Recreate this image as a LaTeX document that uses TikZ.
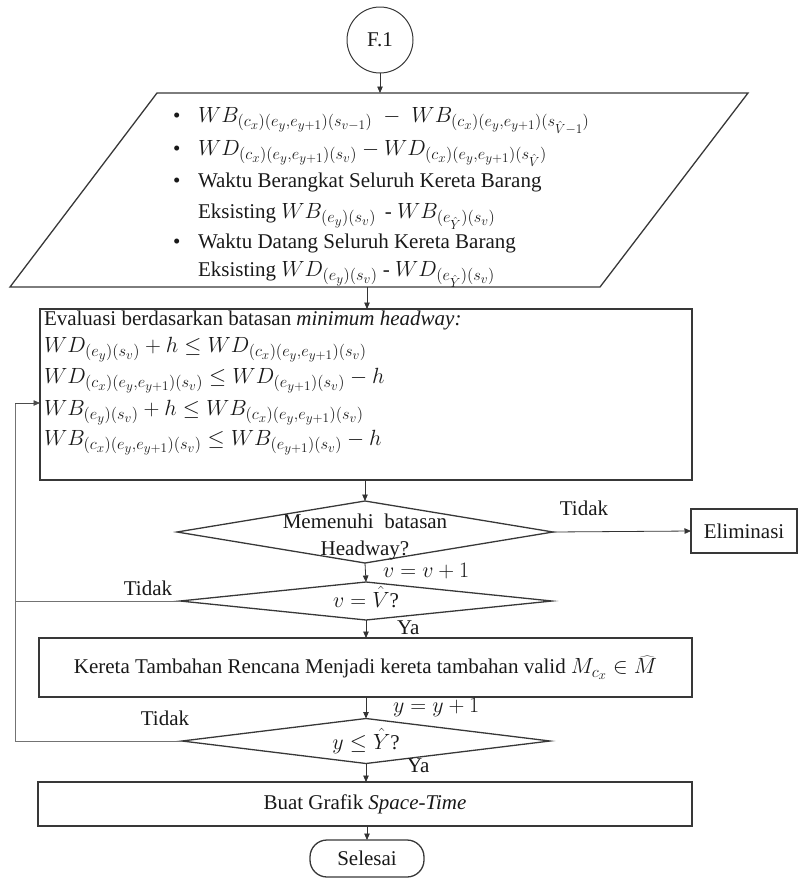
\RequirePackage{fix-cm}
\documentclass[tikz,border=0pt]{standalone}
\usepackage{fontspec}
\setmainfont{Liberation Serif}
\DeclareMathSizes{21}{22}{16.4}{13.2}
\usetikzlibrary{shapes.geometric,arrows.meta}

\begin{document}
\begin{tikzpicture}[x=1pt, y=-1pt,
  font=\fontsize{21pt}{27pt}\selectfont,
  every node/.style={inner sep=0pt, outer sep=0pt, text=black!90},
  shapeline/.style={draw=black!78, line width=1.3pt},
  procbox/.style={shapeline, rectangle},
  decision/.style={shapeline, diamond, minimum width=#1},
  conn/.style={draw=black!80, line width=0.8pt, -{Triangle[length=6.5pt,width=5.5pt]}},
  loopline/.style={draw=black!55, line width=0.8pt},
  lbl/.style={anchor=base west},
  clbl/.style={anchor=base},
]
\useasboundingbox (0,0) rectangle (798,879);

% start connector
\node[draw=black!78, line width=1pt, circle, minimum size=66pt] (f1) at (380,40) {F.1};

% input / output parallelogram
\coordinate (ioTL) at (157,93);
\coordinate (ioTR) at (748,93);
\coordinate (ioBR) at (600,287);
\coordinate (ioBL) at (10,287);
\draw[shapeline] (ioTL) -- (ioTR) -- (ioBR) -- (ioBL) -- cycle;
\coordinate (ioIn) at (380,93);
\coordinate (ioOut) at (367,287);

\node[lbl] (u1) at (173,122) {\textbullet};
\node[lbl] (u2) at (173,155) {\textbullet};
\node[lbl] (u3) at (173,187) {\textbullet};
\node[lbl] (u5) at (173,248) {\textbullet};
\node[lbl] (p1) at (198,122) {$WB_{(c_x)(e_y,e_{y+1})(s_{v-1})}\;-\;WB_{(c_x)(e_y,e_{y+1})(s_{\hat{V}-1})}$};
\node[lbl] (p2) at (198,155) {$WD_{(c_x)(e_y,e_{y+1})(s_v)}-WD_{(c_x)(e_y,e_{y+1})(s_{\hat{V}})}$};
\node[lbl] (p3) at (198,187) {Waktu Berangkat Seluruh Kereta Barang};
\node[lbl] (p4) at (198,218) {Eksisting $WB_{(e_y)(s_v)}$ \,- $WB_{(e_{\hat{Y}})(s_v)}$};
\node[lbl] (p5) at (198,248) {Waktu Datang Seluruh Kereta Barang};
\node[lbl] (p6) at (198,276) {Eksisting $WD_{(e_y)(s_v)}$ - $WD_{(e_{\hat{Y}})(s_v)}$};

% headway evaluation
\node[procbox, minimum width=652pt, minimum height=171pt] (eval) at (366,394.5) {};
\node[lbl] (e0) at (44,325) {Evaluasi berdasarkan batasan \textit{minimum headway:}};
\node[lbl] (e1) at (44,352) {$WD_{(e_y)(s_v)}+h\le WD_{(c_x)(e_y,e_{y+1})(s_v)}$};
\node[lbl] (e2) at (44,383) {$WD_{(c_x)(e_y,e_{y+1})(s_v)}\le WD_{(e_{y+1})(s_v)}-h$};
\node[lbl] (e3) at (44,415) {$WB_{(e_y)(s_v)}+h\le WB_{(c_x)(e_y,e_{y+1})(s_v)}$};
\node[lbl] (e4) at (44,445) {$WB_{(c_x)(e_y,e_{y+1})(s_v)}\le WB_{(e_{y+1})(s_v)}-h$};

% decisions
\node[decision=376pt, minimum height=62pt] (d1) at (365,532) {};
\node[clbl] (d1a) at (365,528) {Memenuhi\ \ batasan};
\node[clbl] (d1b) at (365,555) {Headway?};

\node[procbox, minimum width=106pt, minimum height=44pt] (elim) at (744,531) {Eliminasi};

\node[decision=372pt, minimum height=38pt] (d2) at (366,601) {};
\node[clbl] (d2t) at (366,607) {$v=\hat{V}$?};

\node[procbox, minimum width=653pt, minimum height=59pt] (valid) at (365.5,667.5)
  {Kereta Tambahan Rencana Menjadi kereta tambahan valid $M_{c_x}\in\widehat{M}$};

\node[decision=368pt, minimum height=45pt] (d3) at (366,741) {};
\node[clbl] (d3t) at (366,749) {$y\le\hat{Y}$?};

\node[procbox, minimum width=654pt, minimum height=44pt] (graf) at (365,804) {Buat Grafik \textit{Space-Time}};

\node[shapeline, rectangle, rounded corners=17pt, minimum width=114pt, minimum height=37pt] (end) at (367,858.5) {Selesai};

% flow labels
\node[clbl] (t1) at (584,515) {Tidak};
\node[lbl] (inc1) at (383,577) {$v=v+1$};
\node[clbl] (t2) at (148,595) {Tidak};
\node[lbl] (y1) at (397,634) {Ya};
\node[lbl] (inc2) at (393,712) {$y=y+1$};
\node[clbl] (t3) at (165,725) {Tidak};
\node[lbl] (y2) at (407,772) {Ya};

% connectors
\draw[conn] (f1) -- (ioIn);
\draw[conn] (ioOut) -- (ioOut |- eval.north);
\draw[conn] (eval.south -| d1.north) -- (d1.north);
\draw[conn] (d1.east) -- (elim.west);
\draw[conn] (d1.south) -- (d2.north);
\draw[conn] (d2.south) -- (d2.south |- valid.north);
\draw[conn] (valid.south -| d3.north) -- (d3.north);
\draw[conn] (d3.south) -- (d3.south |- graf.north);
\draw[conn] (graf.south -| end.north) -- (end.north);

% loop back to the evaluation
\draw[loopline] (d3.west) -- (15,741) -- (15,601);
\draw[loopline] (d2.west) -- (15,601) -- (15,403);
\draw[conn, draw=black!70] (15,403) -- (eval.west |- 15,403);
\end{tikzpicture}
\end{document}
